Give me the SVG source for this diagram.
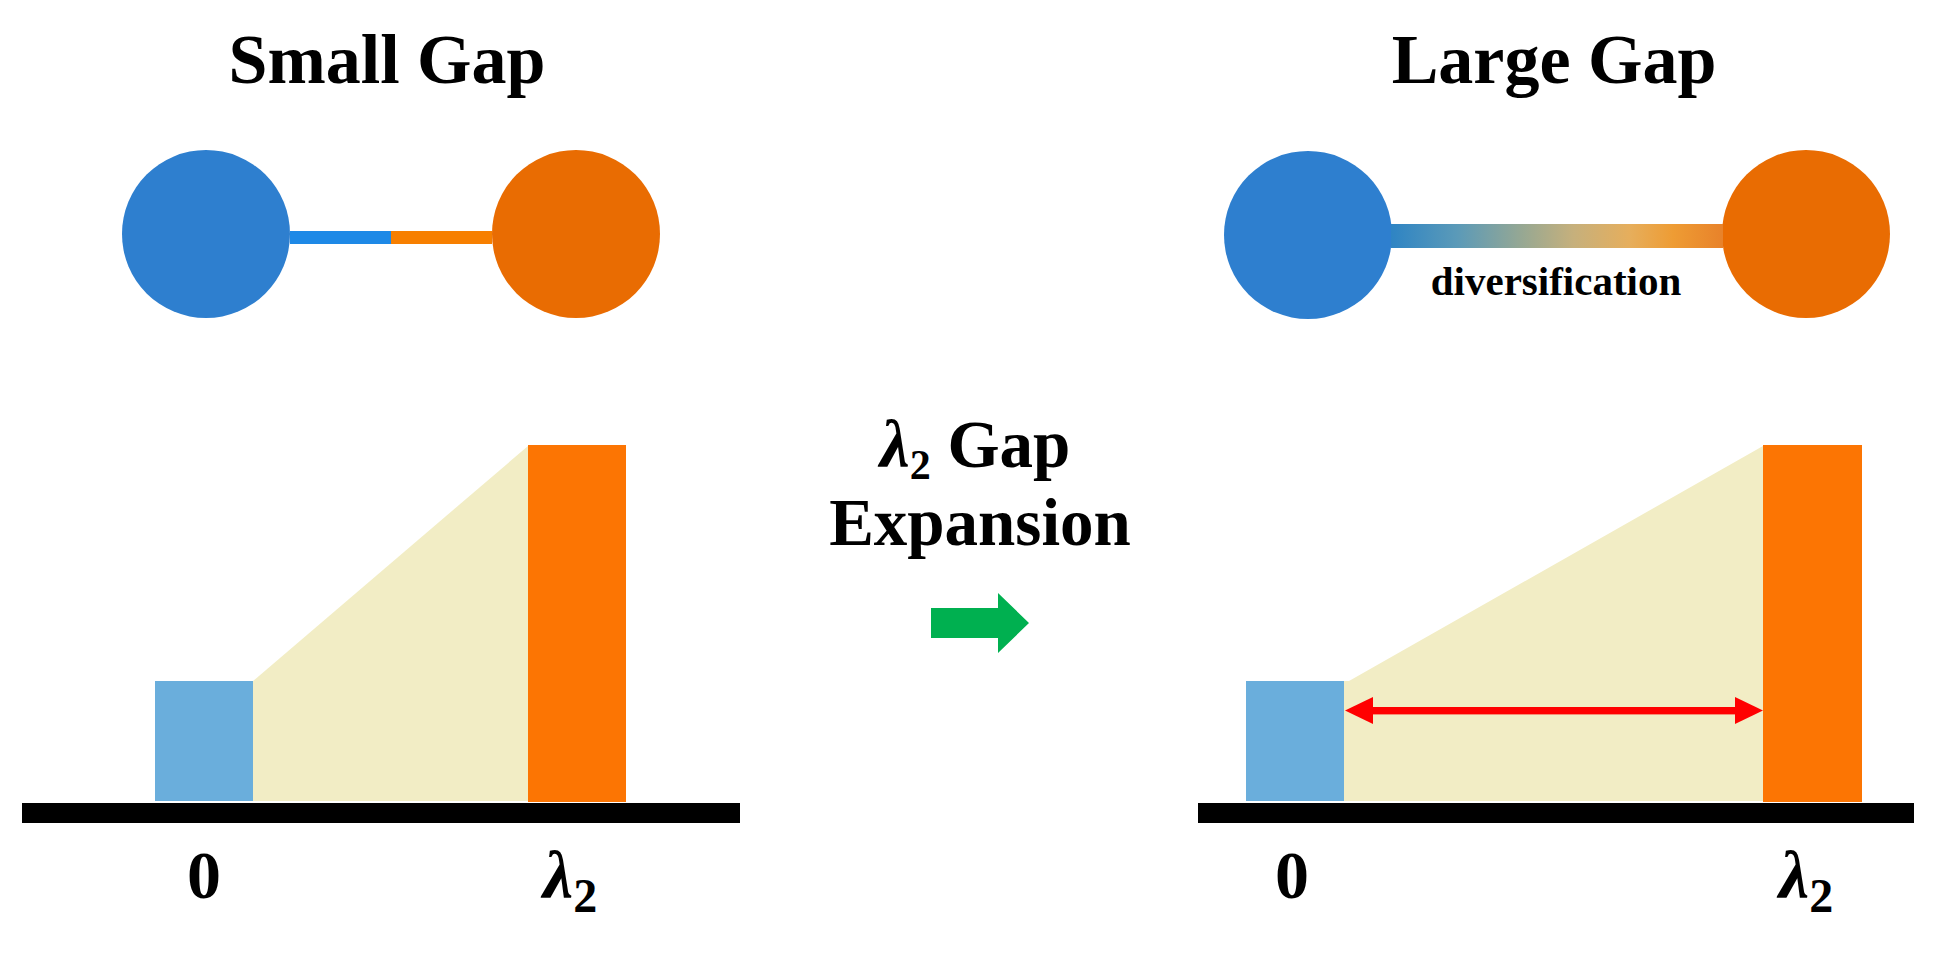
<svg xmlns="http://www.w3.org/2000/svg" width="1943" height="954" viewBox="0 0 1943 954">
  <defs>
    <linearGradient id="divGrad" x1="0" y1="0" x2="1" y2="0">
      <stop offset="0" stop-color="#2E84C4"/>
      <stop offset="0.2" stop-color="#5B9AB8"/>
      <stop offset="0.4" stop-color="#98A892"/>
      <stop offset="0.55" stop-color="#C6B07C"/>
      <stop offset="0.72" stop-color="#E6AE5C"/>
      <stop offset="0.85" stop-color="#EE9C34"/>
      <stop offset="1" stop-color="#E8822A"/>
    </linearGradient>
  </defs>
  <style>
    .title { font-family: "Liberation Serif", "Times New Roman", serif; font-weight: bold; font-size: 70px; fill: #000; text-anchor: middle; }
    .mid { font-family: "Liberation Serif", "Times New Roman", serif; font-weight: bold; font-size: 67px; fill: #000; }
    .lab { font-family: "Liberation Serif", "Times New Roman", serif; font-weight: bold; fill: #000; }
    .lam { font-style: italic; }
    .nodeBlue { fill: #2E7FCF; }
    .nodeOrange { fill: #E96C02; }
    .barBlue { fill: #6AAEDC; }
    .barOrange { fill: #FC7503; }
    .fillArea { fill: #F2EDC5; }
    .axis { fill: #000; }
  </style>

  <!-- Titles -->
  <g id="title-small"><text class="title" x="387" y="83">Small Gap</text></g>
  <g id="title-large"><text class="title" x="1554" y="83">Large Gap</text></g>

  <!-- Left graph nodes -->
  <g id="node-left-blue"><circle class="nodeBlue" cx="206" cy="234" r="84"/></g>
  <g id="node-left-orange"><circle class="nodeOrange" cx="576" cy="234" r="84"/></g>
  <!-- Right graph nodes -->
  <g id="node-right-blue"><circle class="nodeBlue" cx="1308" cy="235" r="84"/></g>
  <g id="node-right-orange"><circle class="nodeOrange" cx="1806" cy="234" r="84"/></g>
  <g id="label-diversification"><text class="lab" x="1556" y="295" font-size="41" text-anchor="middle">diversification</text></g>

  <!-- Middle label -->
  <g id="label-expansion">
    <text class="mid" x="880" y="467"><tspan class="lam">λ</tspan><tspan font-size="42" dy="12">2</tspan><tspan dy="-12"> Gap</tspan></text>
    <text class="mid" x="980" y="545" text-anchor="middle">Expansion</text>
  </g>

  <!-- Left spectrum -->
  <g id="spectrum-left">
    <polygon class="fillArea" points="253,681 528,446 528,801 253,801"/>
    <rect class="barBlue" x="155" y="681" width="98" height="120"/>
    <rect class="barOrange" x="528" y="445" width="98" height="357"/>
    <rect class="axis" x="22" y="803" width="718" height="20"/>
    <text class="lab" x="204" y="898" font-size="68" text-anchor="middle">0</text>
    <text class="lab" x="543" y="898" font-size="68"><tspan class="lam">λ</tspan><tspan font-size="48" dy="14">2</tspan></text>
  </g>

  <!-- Right spectrum -->
  <g id="spectrum-right">
    <polygon class="fillArea" points="1344,681 1349,681 1763,446 1763,801 1344,801"/>
    <rect class="barBlue" x="1246" y="681" width="98" height="120"/>
    <rect class="barOrange" x="1763" y="445" width="99" height="357"/>
    <rect class="axis" x="1198" y="803" width="716" height="20"/>
    <text class="lab" x="1292" y="898" font-size="68" text-anchor="middle">0</text>
    <text class="lab" x="1779" y="898" font-size="68"><tspan class="lam">λ</tspan><tspan font-size="48" dy="14">2</tspan></text>
  </g>

  <!-- Connectors -->
  <g id="connectors">
    <rect x="290" y="231" width="101" height="13" fill="#1E89E6"/>
    <rect x="391" y="231" width="101" height="13" fill="#F77F00"/>
    <rect x="1391" y="224" width="332" height="24" fill="url(#divGrad)"/>
    <polygon points="931,608 998,608 998,593 1029,623 998,653 998,638 931,638" fill="#00B050"/>
    <g fill="#FF0000">
      <rect x="1370" y="707" width="368" height="7.4"/>
      <polygon points="1345,710.5 1373,697 1373,724"/>
      <polygon points="1763,710.5 1735,697 1735,724"/>
    </g>
  </g>
</svg>
